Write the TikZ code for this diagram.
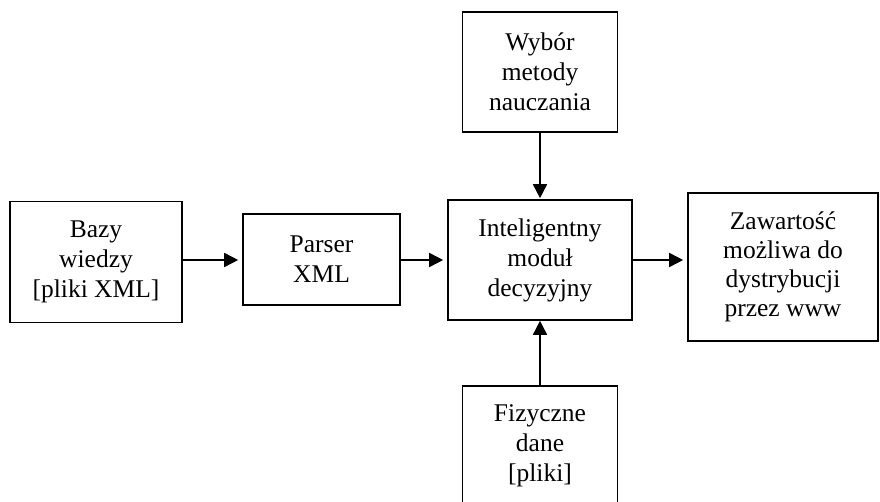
\documentclass[tikz,border=0pt]{standalone}
\usepackage{fontspec}
\setmainfont{Liberation Serif}
\usetikzlibrary{arrows.meta}
\tikzset{
  blockbox/.style={draw=black, line width=1.6pt, rectangle, align=center,
    inner sep=0pt, font=\fontsize{25.5}{30}\selectfont},
  flowarrow/.style={line width=1.6pt, -{Triangle[length=14pt,width=14pt]}, shorten >=4pt},
}
\begin{document}
\begin{tikzpicture}[x=1pt,y=-1pt]
  \useasboundingbox (0,0) rectangle (880,502);
  % blocks
  \node[blockbox, minimum width=172pt, minimum height=121pt] (bazy) at (96,262) {Bazy\\wiedzy\\{[pliki XML]}};
  \node[blockbox, minimum width=157pt, minimum height=91pt] (parser) at (321.5,259.5) {Parser\\XML};
  \node[blockbox, minimum width=184pt, minimum height=120pt] (modul) at (540,260) {Inteligentny\\moduł\\decyzyjny};
  \node[blockbox, minimum width=155pt, minimum height=120pt] (wybor) at (540,72) {Wybór\\metody\\nauczania};
  \node[blockbox, minimum width=155pt, minimum height=119pt, anchor=north] (dane) at (540,385) {Fizyczne\\dane\\{[pliki]}};
  \node[blockbox, minimum width=190pt, minimum height=148pt, font=\fontsize{25.5}{29}\selectfont] (www) at (783,267) {Zawartość\\możliwa do\\dystrybucji\\przez www};
  % connectors
  \draw[flowarrow] (bazy.east |- modul.west) -- (parser.west |- modul.west);
  \draw[flowarrow] (parser.east |- modul.west) -- (modul.west);
  \draw[flowarrow] (modul.east) -- (www.west |- modul.east);
  \draw[flowarrow, shorten >=1pt] (wybor.south) -- (modul.north);
  \draw[flowarrow, shorten >=0pt] (dane.north) -- (modul.south);
\end{tikzpicture}
\end{document}
